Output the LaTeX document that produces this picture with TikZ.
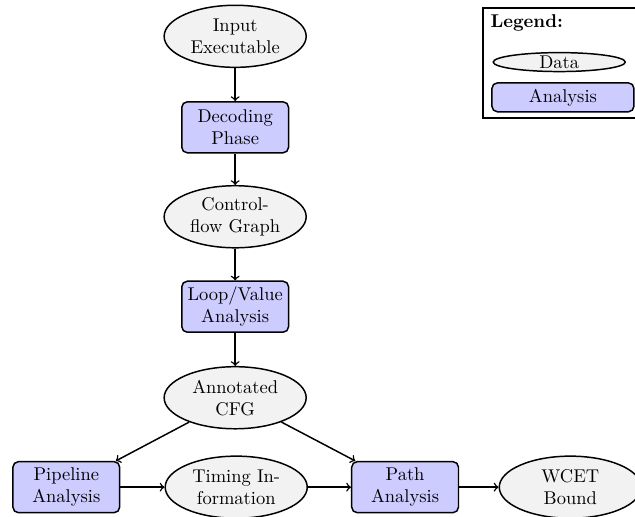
\documentclass[tikz,border=0pt]{standalone}
\usepackage{tikz}
\usetikzlibrary{shapes.geometric}
\usetikzlibrary{arrows}

\tikzset{
  data/.style={ellipse, draw, thick, fill=gray!10, minimum width=2.7cm, minimum height=1.18cm, inner sep=0pt, align=center},
  analysis/.style={rectangle, rounded corners=3pt, draw, thick, fill=blue!20, minimum width=2.03cm, minimum height=0.97cm, inner sep=0pt, align=center},
  flow/.style={->, thick},
}

\begin{document}
\begin{tikzpicture}
				% Bounding box:
				\useasboundingbox (0, 0) rectangle (12.07, -9.81);
				% Nodes:
				\node[data](N1) at (4.47, -0.69){Input\\Executable};
				\node[analysis](N2) at (4.47, -2.42){Decoding\\Phase};
				\node[data](N3) at (4.47, -4.12){Control-\\flow Graph};
				\node[analysis](N4) at (4.47, -5.83){Loop/Value\\Analysis};
				\node[data](N5) at (4.47, -7.56){Annotated\\CFG};
				\node[analysis](N6) at (1.26, -9.26){Pipeline\\Analysis};
				\node[data](N7) at (4.49, -9.26){Timing In-\\formation};
				\node[analysis](N8) at (7.70, -9.26){Path\\Analysis};
				\node[data](N9) at (10.84, -9.26){WCET\\Bound};
				% Arrows:
				\draw[flow] (N1) -- (N2);
				\draw[flow] (N2) -- (N3);
				\draw[flow] (N3) -- (N4);
				\draw[flow] (N4) -- (N5);
				\draw[flow] (N5) -- (N6);
				\draw[flow] (N5) -- (N8);
				\draw[flow] (N6) -- (N7);
				\draw[flow] (N7) -- (N8);
				\draw[flow] (N8) -- (N9);
				% Legend:
				\node[draw, thick, minimum width=3.32cm, minimum height=2.09cm](L0) at (10.84, -1.195){};
				\node[anchor=west](L1) at (9.20, -0.44){\textbf{Legend:}};
				\node[data, minimum width=2.51cm, minimum height=0.36cm](L2) at (10.63, -1.18){Data};
				\node[analysis, minimum width=2.70cm, minimum height=0.55cm](L3) at (10.70, -1.85){Analysis};
			\end{tikzpicture}
\end{document}
